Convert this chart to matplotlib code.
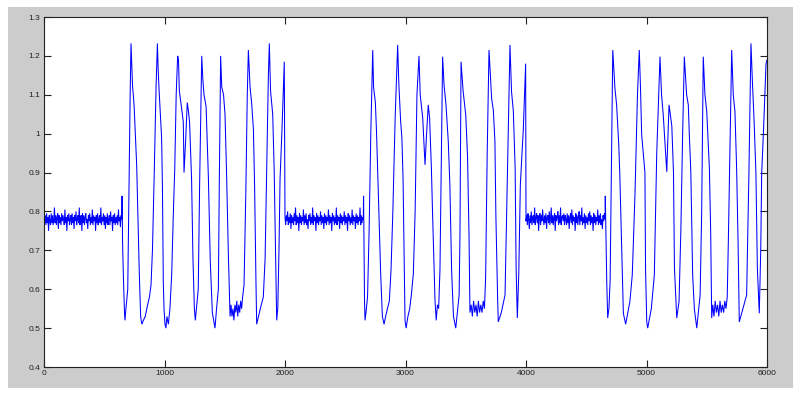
import numpy as np
import matplotlib
matplotlib.use("Agg")
import matplotlib.pyplot as plt
from matplotlib.patches import Rectangle
from matplotlib.ticker import FuncFormatter

# ---------------- data ----------------
x_ticks = [0, 1000, 2000, 3000, 4000, 5000, 6000]
y_ticks = [0.4, 0.5, 0.6, 0.7, 0.8, 0.9, 1.0, 1.1, 1.2, 1.3]

# flat (idle) segments: start, end and noisy values
flat_spans = [(0, 645), (2000, 2650), (4000, 4656)]
flat_noise_1 = [0.78, 0.77, 0.79, 0.765, 0.795, 0.77, 0.785, 0.75, 0.79, 0.775,
                0.765, 0.795, 0.77, 0.79, 0.765, 0.78, 0.81, 0.77, 0.79, 0.765,
                0.785, 0.795, 0.755, 0.79, 0.77, 0.785, 0.765, 0.795, 0.775, 0.79,
                0.78, 0.765, 0.805, 0.77, 0.785, 0.75, 0.79, 0.775, 0.795, 0.765,
                0.78, 0.79, 0.765, 0.795, 0.77, 0.785, 0.755, 0.79, 0.775, 0.80,
                0.765, 0.78, 0.79, 0.77, 0.81, 0.765, 0.785, 0.79, 0.75, 0.795,
                0.77, 0.79, 0.765, 0.785, 0.795, 0.77, 0.78, 0.755, 0.79, 0.775,
                0.795, 0.765, 0.785, 0.77, 0.805, 0.765, 0.79, 0.775, 0.785, 0.75,
                0.79, 0.77, 0.795, 0.765, 0.78, 0.79, 0.77, 0.81, 0.765, 0.785,
                0.775, 0.795, 0.765, 0.79, 0.755, 0.785, 0.77, 0.795, 0.765, 0.78,
                0.79, 0.765, 0.80, 0.775, 0.785, 0.75, 0.79, 0.77, 0.795, 0.765,
                0.785, 0.77, 0.79, 0.765, 0.805, 0.775, 0.785, 0.76, 0.79, 0.78]
flat_noise_2 = [0.785, 0.765, 0.79, 0.775, 0.80, 0.765, 0.785, 0.77, 0.795, 0.755,
                0.79, 0.77, 0.785, 0.765, 0.795, 0.775, 0.81, 0.765, 0.79, 0.77,
                0.785, 0.75, 0.795, 0.77, 0.79, 0.765, 0.785, 0.775, 0.805, 0.765,
                0.79, 0.77, 0.795, 0.765, 0.78, 0.755, 0.79, 0.775, 0.795, 0.765,
                0.785, 0.77, 0.81, 0.765, 0.79, 0.775, 0.785, 0.75, 0.795, 0.77,
                0.79, 0.765, 0.785, 0.775, 0.80, 0.765, 0.79, 0.77, 0.785, 0.755,
                0.795, 0.77, 0.79, 0.765, 0.785, 0.775, 0.805, 0.765, 0.79, 0.77,
                0.785, 0.75, 0.795, 0.775, 0.79, 0.765, 0.785, 0.77, 0.81, 0.765,
                0.79, 0.775, 0.785, 0.755, 0.795, 0.77, 0.79, 0.765, 0.785, 0.775,
                0.80, 0.765, 0.79, 0.77, 0.785, 0.75, 0.795, 0.775, 0.79, 0.765,
                0.785, 0.77, 0.805, 0.765, 0.79, 0.775, 0.785, 0.755, 0.795, 0.77,
                0.79, 0.765, 0.785, 0.775, 0.81, 0.765, 0.79, 0.77, 0.785, 0.78]
flat_noise_3 = [0.775, 0.79, 0.765, 0.795, 0.78, 0.755, 0.79, 0.77, 0.80, 0.765,
                0.785, 0.79, 0.77, 0.81, 0.765, 0.785, 0.795, 0.77, 0.79, 0.75,
                0.785, 0.795, 0.765, 0.79, 0.775, 0.805, 0.78, 0.765, 0.79, 0.77,
                0.795, 0.755, 0.785, 0.79, 0.77, 0.80, 0.765, 0.785, 0.81, 0.77,
                0.79, 0.765, 0.785, 0.795, 0.75, 0.79, 0.775, 0.785, 0.80, 0.765,
                0.79, 0.77, 0.81, 0.765, 0.785, 0.79, 0.775, 0.795, 0.765, 0.79,
                0.78, 0.765, 0.795, 0.77, 0.79, 0.755, 0.785, 0.795, 0.77, 0.805,
                0.765, 0.79, 0.775, 0.785, 0.75, 0.795, 0.77, 0.79, 0.765, 0.785,
                0.80, 0.765, 0.79, 0.775, 0.81, 0.765, 0.785, 0.77, 0.795, 0.755,
                0.79, 0.77, 0.785, 0.765, 0.795, 0.775, 0.80, 0.765, 0.79, 0.77,
                0.785, 0.75, 0.795, 0.77, 0.79, 0.765, 0.785, 0.775, 0.805, 0.765,
                0.79, 0.77, 0.795, 0.765, 0.78, 0.755, 0.79, 0.775, 0.795, 0.78]
flat_noises = [flat_noise_1, flat_noise_2, flat_noise_3]

# active (oscillating) segments: breakpoints
osc1_t = [648, 652, 660, 668, 672, 680, 695, 705, 715, 722, 728, 735, 741, 748, 755,
          769, 780, 791, 802, 812, 825, 840, 860, 875, 888, 900, 915, 930, 941, 948,
          957, 966, 976, 983, 990, 996, 1004, 1012, 1020, 1032, 1045, 1060, 1072, 1085,
          1097, 1109, 1116, 1123, 1140, 1156, 1162, 1175, 1189, 1198, 1208, 1225, 1236,
          1248, 1256, 1268, 1280, 1292, 1309, 1318, 1328, 1345, 1364, 1380, 1397, 1408,
          1419, 1432, 1447, 1455, 1466, 1475, 1490, 1502, 1515, 1530, 1544, 1552, 1560,
          1568, 1576, 1584, 1592, 1600, 1608, 1616, 1624, 1632, 1640, 1648, 1660, 1675,
          1687, 1696, 1710, 1723, 1738, 1748, 1759, 1765, 1780, 1795, 1820, 1835, 1850,
          1862, 1870, 1880, 1898, 1910, 1922, 1931, 1940, 1950, 1959, 1975, 1985, 1994]
osc1_v = [0.84, 0.72, 0.62, 0.54, 0.52, 0.55, 0.60, 0.85, 1.10, 1.232, 1.18, 1.12, 1.10,
          1.07, 1.02, 0.92, 0.78, 0.64, 0.53, 0.51, 0.52, 0.53, 0.56, 0.58, 0.61, 0.70,
          0.90, 1.12, 1.232, 1.16, 1.10, 1.05, 0.99, 0.86, 0.62, 0.55, 0.51, 0.50, 0.53,
          0.51, 0.55, 0.64, 0.78, 0.91, 1.10, 1.20, 1.19, 1.11, 1.07, 1.03, 0.90, 0.98,
          1.08, 1.06, 1.03, 0.88, 0.68, 0.55, 0.52, 0.56, 0.60, 0.88, 1.20, 1.14, 1.10,
          1.07, 0.89, 0.67, 0.54, 0.52, 0.50, 0.55, 0.60, 0.88, 1.20, 1.12, 1.10, 1.05,
          0.90, 0.69, 0.53, 0.56, 0.53, 0.55, 0.52, 0.56, 0.54, 0.57, 0.53, 0.56, 0.54,
          0.57, 0.55, 0.58, 0.61, 0.85, 1.10, 1.215, 1.12, 1.08, 1.01, 0.86, 0.62, 0.51,
          0.53, 0.55, 0.58, 0.68, 0.95, 1.15, 1.232, 1.11, 1.05, 0.91, 0.69, 0.52, 0.55,
          0.70, 0.885, 1.01, 1.10, 1.185]

osc2_t = [2652, 2656, 2660, 2664, 2672, 2685, 2698, 2712, 2728, 2735, 2750, 2760, 2775,
          2794, 2808, 2822, 2835, 2850, 2866, 2880, 2895, 2915, 2935, 2945, 2960, 2970,
          2980, 2990, 2996, 3005, 3020, 3035, 3050, 3065, 3080, 3095, 3112, 3122, 3143,
          3162, 3175, 3189, 3200, 3215, 3225, 3245, 3255, 3265, 3275, 3286, 3295, 3308,
          3320, 3336, 3355, 3368, 3383, 3398, 3417, 3430, 3445, 3452, 3461, 3478, 3500,
          3515, 3527, 3535, 3545, 3555, 3565, 3575, 3585, 3595, 3605, 3615, 3625, 3635,
          3645, 3655, 3665, 3678, 3693, 3715, 3729, 3742, 3750, 3765, 3770, 3795, 3826,
          3845, 3867, 3880, 3895, 3910, 3918, 3928, 3940, 3953, 3978, 3997]
osc2_v = [0.84, 0.71, 0.57, 0.52, 0.54, 0.58, 0.75, 1.00, 1.215, 1.12, 1.08, 1.00, 0.84,
          0.64, 0.53, 0.51, 0.53, 0.55, 0.57, 0.65, 0.80, 1.05, 1.228, 1.125, 1.03, 0.99,
          0.88, 0.65, 0.52, 0.50, 0.53, 0.55, 0.59, 0.64, 0.80, 1.10, 1.20, 1.10, 1.04,
          0.92, 1.00, 1.074, 1.04, 0.91, 0.79, 0.57, 0.52, 0.56, 0.55, 0.65, 0.87, 1.198,
          1.125, 1.074, 0.98, 0.87, 0.645, 0.53, 0.50, 0.54, 0.585, 0.74, 1.185, 1.11,
          1.048, 0.94, 0.74, 0.54, 0.56, 0.53, 0.57, 0.54, 0.56, 0.53, 0.57, 0.54, 0.56,
          0.54, 0.57, 0.55, 0.63, 0.95, 1.215, 1.09, 1.06, 0.98, 0.79, 0.57, 0.516, 0.54,
          0.585, 0.88, 1.228, 1.108, 1.057, 0.91, 0.654, 0.526, 0.64, 0.868, 1.014, 1.18]

osc3_t = [4658, 4665, 4670, 4678, 4688, 4698, 4710, 4720, 4738, 4752, 4770, 4778, 4799,
          4808, 4827, 4845, 4862, 4882, 4905, 4925, 4940, 4950, 4960, 4973, 4987, 4992,
          5002, 5010, 5040, 5065, 5085, 5112, 5125, 5139, 5168, 5187, 5210, 5224, 5232,
          5251, 5270, 5285, 5300, 5314, 5333, 5347, 5355, 5368, 5383, 5397, 5417, 5445,
          5458, 5471, 5485, 5500, 5522, 5533, 5541, 5550, 5560, 5570, 5580, 5590, 5600,
          5610, 5620, 5630, 5640, 5650, 5660, 5670, 5679, 5707, 5720, 5734, 5748, 5760,
          5770, 5800, 5831, 5850, 5867, 5880, 5892, 5908, 5920, 5936, 5948, 5956, 5970,
          5992, 6000]
osc3_v = [0.84, 0.71, 0.62, 0.526, 0.55, 0.62, 0.95, 1.215, 1.117, 1.074, 0.97, 0.90,
          0.654, 0.538, 0.51, 0.54, 0.568, 0.637, 0.85, 1.10, 1.215, 1.12, 0.997, 0.95,
          0.90, 0.654, 0.516, 0.50, 0.55, 0.637, 0.95, 1.198, 1.10, 1.048, 0.902, 1.074,
          1.02, 0.90, 0.654, 0.526, 0.568, 0.75, 1.00, 1.198, 1.10, 1.074, 1.00, 0.90,
          0.637, 0.55, 0.50, 0.585, 0.80, 1.198, 1.10, 1.057, 0.91, 0.74, 0.526, 0.56,
          0.53, 0.57, 0.54, 0.56, 0.53, 0.57, 0.54, 0.56, 0.54, 0.57, 0.55, 0.58, 0.72,
          1.215, 1.10, 1.057, 0.91, 0.72, 0.516, 0.55, 0.585, 0.90, 1.232, 1.125, 1.04,
          0.90, 0.654, 0.538, 0.70, 0.90, 1.00, 1.18, 1.19]

osc_t = [osc1_t, osc2_t, osc3_t]
osc_v = [osc1_v, osc2_v, osc3_v]

# ---------------- assemble the trace ----------------
t_all, v_all = [], []
for (a, b), noise, ot, ov in zip(flat_spans, flat_noises, osc_t, osc_v):
    t_all.extend(np.linspace(a, b, len(noise)))
    v_all.extend(noise)
    t_all.extend(ot)
    v_all.extend(ov)

# ---------------- figure ----------------
W, H = 798, 396
fig = plt.figure(figsize=(W / 100, H / 100), dpi=100, facecolor="white")
bg = Rectangle((8 / W, 1 - 388 / H), 785 / W, 381 / H,
               transform=fig.transFigure, facecolor="#cccccc",
               edgecolor="none", zorder=-10)
fig.add_artist(bg)

ax = fig.add_axes([44 / W, 1 - 367 / H, 723 / W, 350 / H])
ax.set_zorder(1)
ax.set_facecolor("white")
ax.plot(t_all, v_all, color="#0000ff", linewidth=0.75, solid_joinstyle="miter")

ax.set_xlim(0, 6000)
ax.set_ylim(0.4, 1.3)
ax.set_xticks(x_ticks)
ax.set_yticks(y_ticks)
ax.yaxis.set_major_formatter(FuncFormatter(lambda v, p: f"{v:g}"))
ax.tick_params(direction="in", length=5, width=0.8, top=True, right=True,
               labelsize=6, labelcolor="#222222", pad=2.5, color="#222222")
for lab in ax.get_xticklabels() + ax.get_yticklabels():
    lab.set_fontfamily("Liberation Sans")
for s in ax.spines.values():
    s.set_linewidth(0.8)
    s.set_color("#222222")

fig.savefig("out.png", dpi=100, facecolor="white")
